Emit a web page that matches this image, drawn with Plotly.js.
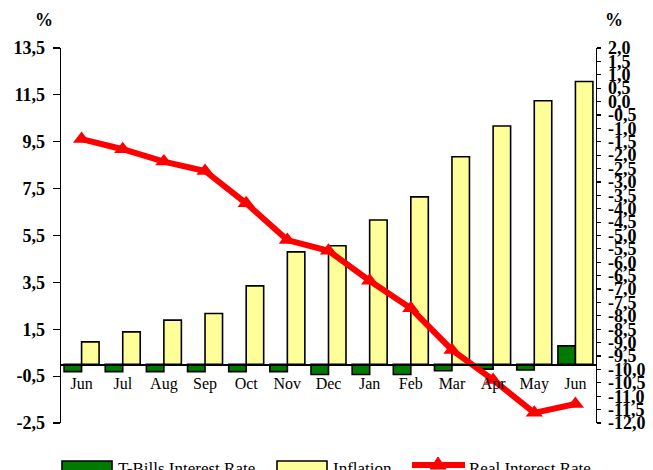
<!DOCTYPE html>
<html>
<head>
<meta charset="utf-8">
<script src="https://cdn.plot.ly/plotly-3.0.1.min.js"></script>
<style>html,body{margin:0;padding:0;background:#fff;}#chart{width:653px;height:470px;}</style>
</head>
<body>
<div id="chart"></div>
<script>
const months = ['Jun','Jul','Aug','Sep','Oct','Nov','Dec','Jan','Feb','Mar','Apr','May','Jun'];
const tbillsRate = [-0.31,-0.31,-0.31,-0.31,-0.31,-0.31,-0.43,-0.43,-0.43,-0.27,-0.2,-0.24,0.79];
const inflation = [0.96,1.39,1.89,2.17,3.35,4.8,5.06,6.16,7.15,8.86,10.17,11.25,12.07];
const realRate = [-1.4,-1.78,-2.24,-2.59,-3.8,-5.17,-5.57,-6.69,-7.72,-9.27,-10.39,-11.62,-11.29];
const leftTicks = [-2.5,-0.5,1.5,3.5,5.5,7.5,9.5,11.5,13.5];
const rightTicks = [];
for (let v = -12; v <= 2.0001; v += 0.5) rightTicks.push(Math.round(v*10)/10);
const fmt = v => v.toFixed(1).replace('.', ',');

const idx = months.map((m,i)=>i);
const bounds = months.slice(1).map((m,i)=>i+0.5);

const W=653,H=470,L=61,R=57,T=48,B=47;
const pw=W-L-R, ph=H-T-B;
const px = x => (x-L)/pw;
const py = y => (H-B-y)/ph;

const serif = 'Liberation Serif, Times New Roman, serif';
const green = '#007A00', yellow = '#FFFF99', red = '#FF0000';

const traces = [
  {type:'bar', x:idx, y:tbillsRate, name:'T-Bills Interest Rate', marker:{color:green, line:{color:'#000', width:1.6}}, xaxis:'x', yaxis:'y'},
  {type:'bar', x:idx, y:inflation, name:'Inflation', marker:{color:yellow, line:{color:'#000', width:1.6}}, xaxis:'x', yaxis:'y'},
  {type:'scatter', mode:'lines+markers', x:idx, y:realRate, name:'Real Interest Rate', line:{color:red, width:6}, marker:{symbol:'triangle-up', size:15, color:red}, xaxis:'x', yaxis:'y2', cliponaxis:false}
];

const zeroPos = 2.5/16;
const yRange = [-2.5,13.5];
const xRange = [-0.5,12.5];

const layout = {
  width:W, height:H,
  margin:{l:L, r:R, t:T, b:B, pad:0},
  paper_bgcolor:'#fff', plot_bgcolor:'rgba(0,0,0,0)',
  showlegend:false,
  barmode:'group', bargap:0.15, bargroupgap:0,
  font:{family:serif, color:'#000'},
  xaxis:{range:xRange, anchor:'free', position:zeroPos, showline:true, linecolor:'#000', linewidth:1.3,
    tickvals:idx, ticktext:months, ticks:'', showgrid:false, zeroline:false,
    tickfont:{family:serif, size:16, color:'#000'}, ticklabelstandoff:4},
  xaxis2:{range:xRange, overlaying:'x', anchor:'free', position:zeroPos, showline:false,
    tickvals:bounds, ticks:'inside', ticklen:4, tickwidth:1, tickcolor:'#000', showticklabels:false, showgrid:false, zeroline:false},
  xaxis3:{range:xRange, overlaying:'x', anchor:'free', position:zeroPos, showline:false,
    tickvals:bounds, ticks:'outside', ticklen:2, tickwidth:1, tickcolor:'#000', showticklabels:false, showgrid:false, zeroline:false},
  yaxis:{range:yRange, anchor:'x', side:'left', showline:true, linecolor:'#000', linewidth:1.3,
    tickvals:leftTicks, ticktext:leftTicks.map(fmt), ticks:'outside', ticklen:7, tickwidth:1.2, tickcolor:'#000',
    showgrid:false, zeroline:false, tickfont:{family:serif, size:18, color:'#000', weight:'bold'}, ticklabelstandoff:4},
  yaxis3:{range:yRange, overlaying:'y', side:'left', anchor:'x', showline:false,
    tickvals:leftTicks, ticks:'inside', ticklen:5, tickwidth:1.2, tickcolor:'#000', showticklabels:false, showgrid:false, zeroline:false},
  yaxis2:{range:[-12,2], overlaying:'y', side:'right', anchor:'x', showline:true, linecolor:'#000', linewidth:1.3,
    tickvals:rightTicks, ticktext:rightTicks.map(fmt), ticks:'outside', ticklen:4, tickwidth:1.2, tickcolor:'#000',
    showgrid:false, zeroline:false, tickfont:{family:serif, size:18, color:'#000', weight:'bold'}, ticklabelstandoff:3},
  yaxis4:{range:[-12,2], overlaying:'y', side:'right', anchor:'x', showline:false,
    tickvals:rightTicks, ticks:'inside', ticklen:4, tickwidth:1.2, tickcolor:'#000', showticklabels:false, showgrid:false, zeroline:false},
  annotations:[
    {xref:'paper', yref:'paper', x:px(44), y:py(20), text:'<b>%</b>', showarrow:false, xanchor:'center', yanchor:'middle', font:{family:serif, size:18, color:'#000'}},
    {xref:'paper', yref:'paper', x:px(614), y:py(20), text:'<b>%</b>', showarrow:false, xanchor:'center', yanchor:'middle', font:{family:serif, size:18, color:'#000'}},
    {xref:'paper', yref:'paper', x:px(116), y:py(468), text:'T-Bills Interest Rate', showarrow:false, xanchor:'left', yanchor:'middle', font:{family:serif, size:17, color:'#000'}},
    {xref:'paper', yref:'paper', x:px(331), y:py(468), text:'Inflation', showarrow:false, xanchor:'left', yanchor:'middle', font:{family:serif, size:17, color:'#000'}},
    {xref:'paper', yref:'paper', x:px(467), y:py(468), text:'Real Interest Rate', showarrow:false, xanchor:'left', yanchor:'middle', font:{family:serif, size:17, color:'#000'}}
  ],
  shapes:[
    {type:'rect', xref:'paper', yref:'paper', x0:px(62), x1:px(112), y0:py(461), y1:py(474), fillcolor:green, line:{color:'#000', width:1.6}},
    {type:'rect', xref:'paper', yref:'paper', x0:px(277), x1:px(327), y0:py(461), y1:py(474), fillcolor:yellow, line:{color:'#000', width:1.6}},
    {type:'line', xref:'paper', yref:'paper', x0:px(412), x1:px(465), y0:py(465), y1:py(465), line:{color:red, width:6}},
    {type:'path', xref:'paper', yref:'paper', path:`M${px(430)},${py(469)} L${px(446)},${py(469)} L${px(438)},${py(457)} Z`, fillcolor:red, line:{color:red, width:1}}
  ]
};

Plotly.newPlot('chart', traces, layout, {displayModeBar:false, staticPlot:true});
</script>
</body>
</html>
